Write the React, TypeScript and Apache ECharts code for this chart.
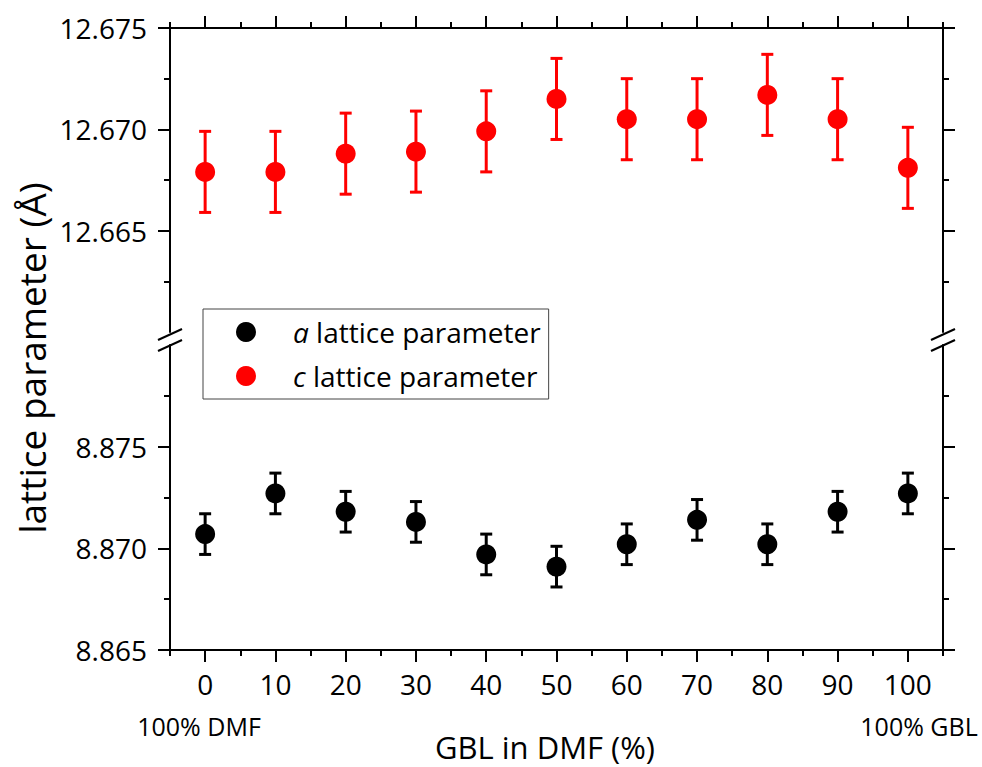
import React, { useEffect, useRef } from 'react';
import * as echarts from 'echarts';

// ---- data ----
const gblPercent = [0, 10, 20, 30, 40, 50, 60, 70, 80, 90, 100];
const aLattice = [8.8707, 8.8727, 8.8718, 8.8713, 8.8697, 8.8691, 8.8702, 8.8714, 8.8702, 8.8718, 8.8727];
const aError = [0.001, 0.001, 0.001, 0.001, 0.001, 0.001, 0.001, 0.001, 0.001, 0.001, 0.001];
const cLattice = [12.6679, 12.6679, 12.6688, 12.6689, 12.6699, 12.6715, 12.6705, 12.6705, 12.6717, 12.6705, 12.6681];
const cError = [0.002, 0.002, 0.002, 0.002, 0.002, 0.002, 0.002, 0.002, 0.002, 0.002, 0.002];

const xMajorTicks = [0, 10, 20, 30, 40, 50, 60, 70, 80, 90, 100];
const xMinorTicks = [-5, 5, 15, 25, 35, 45, 55, 65, 75, 85, 95, 105];
const cMajorTicks = [12.665, 12.67, 12.675];
const cMinorTicks = [12.6625, 12.6675, 12.6725];
const aMajorTicks = [8.865, 8.87, 8.875];
const aMinorTicks = [8.8675, 8.8725, 8.8775];

const seriesNames = ['a lattice parameter', 'c lattice parameter'];
const xAxisTitle = 'GBL in DMF (%)';
const yAxisTitle = 'lattice parameter (Å)';
const leftNote = '100% DMF';
const rightNote = '100% GBL';

const FONT = '"Open Sans", sans-serif';

function errorRenderer(color: string) {
  return (params: any, api: any) => {
    const x = api.value(0);
    const lo = api.coord([x, api.value(1)]);
    const hi = api.coord([x, api.value(2)]);
    const hw = 6;
    const st = { stroke: color, lineWidth: 3 };
    return {
      type: 'group',
      children: [
        { type: 'line', shape: { x1: lo[0], y1: lo[1], x2: hi[0], y2: hi[1] }, style: st },
        { type: 'line', shape: { x1: lo[0] - hw, y1: lo[1], x2: lo[0] + hw, y2: lo[1] }, style: st },
        { type: 'line', shape: { x1: hi[0] - hw, y1: hi[1], x2: hi[0] + hw, y2: hi[1] }, style: st },
      ],
    };
  };
}

function xAxisDef(grid: number, position: string, ticks: number[], len: number, main: boolean, labels: boolean) {
  return {
    type: 'value',
    gridIndex: grid,
    position,
    min: -5,
    max: 105,
    axisLine: { show: main, onZero: false, lineStyle: { color: '#000', width: 2 } },
    axisTick: { show: true, customValues: ticks, length: len, lineStyle: { color: '#000', width: 2 } },
    axisLabel: labels
      ? { show: true, customValues: ticks, margin: 20, fontSize: 28, fontFamily: FONT, color: '#000' }
      : { show: false },
    splitLine: { show: false },
  };
}

function yAxisDef(grid: number, position: string, min: number, max: number, ticks: number[], len: number, main: boolean, labels: boolean) {
  return {
    type: 'value',
    gridIndex: grid,
    position,
    min,
    max,
    axisLine: { show: main, onZero: false, lineStyle: { color: '#000', width: 2 } },
    axisTick: { show: true, customValues: ticks, length: len, lineStyle: { color: '#000', width: 2 } },
    axisLabel: labels
      ? {
          show: true,
          customValues: ticks,
          margin: 23,
          fontSize: 28,
          fontFamily: FONT,
          color: '#000',
          formatter: (v: number) => v.toFixed(3),
        }
      : { show: false },
    splitLine: { show: false },
  };
}

export default function App() {
  const ref = useRef<HTMLDivElement>(null);

  useEffect(() => {
    if (!ref.current) return;
    const chart = echarts.init(ref.current, null, { renderer: 'svg' });

    const cMin = 12.66, cMax = 12.675;
    const aMin = 8.865, aMax = 8.88;

    const option: any = {
      animation: false,
      backgroundColor: '#fff',
      grid: [
        { left: 170, right: 39, top: 28, height: 304 },
        { left: 170, right: 39, top: 345, height: 305 },
      ],
      xAxis: [
        xAxisDef(0, 'top', xMajorTicks, 12, true, false),
        xAxisDef(0, 'top', xMinorTicks, 6, false, false),
        xAxisDef(1, 'bottom', xMajorTicks, 12, true, true),
        xAxisDef(1, 'bottom', xMinorTicks, 6, false, false),
      ],
      yAxis: [
        yAxisDef(0, 'left', cMin, cMax, cMajorTicks, 12, true, true),
        yAxisDef(0, 'right', cMin, cMax, cMajorTicks, 12, true, false),
        yAxisDef(0, 'left', cMin, cMax, cMinorTicks, 6, false, false),
        yAxisDef(0, 'right', cMin, cMax, cMinorTicks, 6, false, false),
        yAxisDef(1, 'left', aMin, aMax, aMajorTicks, 12, true, true),
        yAxisDef(1, 'right', aMin, aMax, aMajorTicks, 12, true, false),
        yAxisDef(1, 'left', aMin, aMax, aMinorTicks, 6, false, false),
        yAxisDef(1, 'right', aMin, aMax, aMinorTicks, 6, false, false),
      ],
      legend: {
        data: seriesNames,
        left: 203,
        top: 309,
        orient: 'vertical',
        icon: 'circle',
        itemWidth: 20,
        itemHeight: 20,
        itemGap: 16,
        borderColor: '#444',
        borderWidth: 1,
        padding: [9, 8, 9, 33],
        selectedMode: false,
        formatter: (name: string) => `{i|${name.charAt(0)}}{t|${name.slice(1)}}`,
        textStyle: {
          color: '#000',
          fontFamily: FONT,
          fontSize: 28,
          rich: {
            i: { fontStyle: 'italic', fontFamily: FONT, fontSize: 28, lineHeight: 28, color: '#000', padding: [0, 0, 0, 32] },
            t: { fontFamily: FONT, fontSize: 28, lineHeight: 28, color: '#000' },
          },
        },
      },
      series: [
        {
          type: 'custom',
          name: 'c error',
          xAxisIndex: 0,
          yAxisIndex: 0,
          silent: true,
          z: 1,
          encode: { x: 0, y: [1, 2] },
          data: cLattice.map((v, i) => [gblPercent[i], v - cError[i], v + cError[i]]),
          renderItem: errorRenderer('#ff0000'),
        },
        {
          type: 'scatter',
          name: seriesNames[1],
          xAxisIndex: 0,
          yAxisIndex: 0,
          symbol: 'circle',
          symbolSize: 20,
          z: 2,
          itemStyle: { color: '#ff0000', opacity: 1 },
          data: cLattice.map((v, i) => [gblPercent[i], v]),
        },
        {
          type: 'custom',
          name: 'a error',
          xAxisIndex: 2,
          yAxisIndex: 4,
          silent: true,
          z: 1,
          encode: { x: 0, y: [1, 2] },
          data: aLattice.map((v, i) => [gblPercent[i], v - aError[i], v + aError[i]]),
          renderItem: errorRenderer('#000000'),
        },
        {
          type: 'scatter',
          name: seriesNames[0],
          xAxisIndex: 2,
          yAxisIndex: 4,
          symbol: 'circle',
          symbolSize: 20,
          z: 2,
          itemStyle: { color: '#000000', opacity: 1 },
          data: aLattice.map((v, i) => [gblPercent[i], v]),
        },
      ],
      graphic: [
        {
          type: 'text',
          x: 31,
          y: 358,
          rotation: Math.PI / 2,
          style: { text: yAxisTitle, fontSize: 37, fontFamily: FONT, fill: '#000', align: 'center', verticalAlign: 'middle' },
        },
        {
          type: 'text',
          x: 545,
          y: 747,
          style: { text: xAxisTitle, fontSize: 31, fontFamily: FONT, fill: '#000', align: 'center', verticalAlign: 'middle' },
        },
        {
          type: 'text',
          x: 199,
          y: 726,
          style: { text: leftNote, fontSize: 25, fontFamily: FONT, fill: '#000', align: 'center', verticalAlign: 'middle' },
        },
        {
          type: 'text',
          x: 919,
          y: 726,
          style: { text: rightNote, fontSize: 25, fontFamily: FONT, fill: '#000', align: 'center', verticalAlign: 'middle' },
        },
        // axis break marks
        { type: 'line', shape: { x1: 158, y1: 340, x2: 182, y2: 329 }, style: { stroke: '#000', lineWidth: 2 } },
        { type: 'line', shape: { x1: 158, y1: 351, x2: 182, y2: 340 }, style: { stroke: '#000', lineWidth: 2 } },
        { type: 'line', shape: { x1: 931, y1: 340, x2: 955, y2: 329 }, style: { stroke: '#000', lineWidth: 2 } },
        { type: 'line', shape: { x1: 931, y1: 351, x2: 955, y2: 340 }, style: { stroke: '#000', lineWidth: 2 } },
      ],
    };

    chart.setOption(option);
    return () => chart.dispose();
  }, []);

  return (
    <div style={{ position: 'fixed', left: 0, top: 0, width: 982, height: 767, background: '#fff' }}>
      <div ref={ref} style={{ width: 982, height: 767 }} />
    </div>
  );
}
